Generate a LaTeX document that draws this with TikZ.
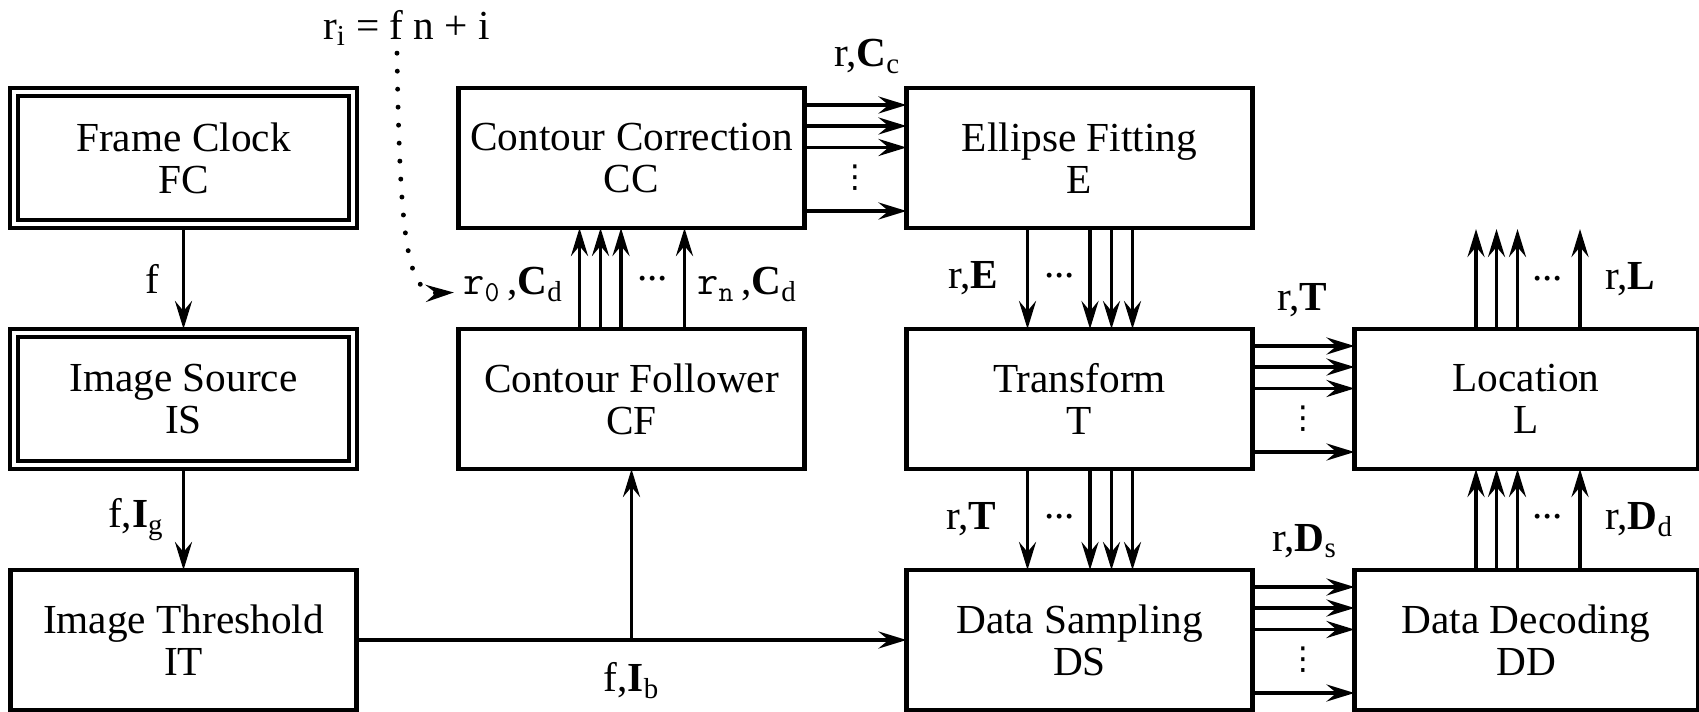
\documentclass[tikz,border=0pt]{standalone}
\usepackage{fontspec}
\setmainfont{Liberation Serif}
\newfontfamily\symfont{DejaVu Sans}
\usepackage{tikz}
\usetikzlibrary{arrows.meta, positioning, calc}

\begin{document}
\begin{tikzpicture}[
  font=\fontsize{23.5pt}{24pt}\selectfont,
  node distance=2.02cm and 2.04cm,
  blk/.style={draw, line width=2.3pt, minimum width=6.92cm, minimum height=2.8cm,
    align=center, outer sep=0pt},
  dblk/.style={blk, double, double distance=2.1pt, minimum width=6.77cm,
    minimum height=2.65cm, outer sep=0.075cm},
  rblk/.style={blk, minimum width=6.86cm},
  sig/.style={-{Stealth[length=0.56cm, width=0.34cm, inset=0.2cm]}, line width=2.2pt},
  lbl/.style={inner sep=0pt},
  vd/.style={inner sep=0pt, font=\symfont\fontsize{18pt}{18pt}\selectfont}
]
  \useasboundingbox (0,0) rectangle (33.98,-14.24);

  % blocks
  \node[dblk] (FC) at (3.67,-3.16) {Frame Clock\\FC};
  \node[dblk, below=of FC] (IS) {Image Source\\IS};
  \node[blk, below=of IS] (IT) {Image Threshold\\IT};
  \node[blk, right=of FC] (CC) {Contour Correction\\CC};
  \node[blk, below=of CC] (CF) {Contour Follower\\CF};
  \node[blk, right=of CC] (E) {Ellipse Fitting\\E};
  \node[blk, below=of E] (T) {Transform\\T};
  \node[blk, below=of T] (DS) {Data Sampling\\DS};
  \node[rblk, right=of T] (L) {Location\\L};
  \node[rblk, below=of L] (DD) {Data Decoding\\DD};

  % left column
  \draw[sig] (FC) -- node[lbl, left=0.45cm] (lf) {f} (IS);
  \draw[sig] (IS) -- node[lbl, left=0.36cm] (lfig) {f,\textbf{I}\textsubscript{g}} (IT);

  % threshold output, split to follower
  \draw[sig] (IT) -- (DS);
  \coordinate (br) at (IT -| CF);
  \draw[sig] (br) -- (CF);
  \node[lbl, below=0.45cm of br] (lfib) {f,\textbf{I}\textsubscript{b}};

  % follower -> correction
  \foreach \dx in {-1.04,-0.62,-0.21,1.06}
    \draw[sig] ([xshift=\dx cm]CF.north) -- ([xshift=\dx cm]CC.south);
  \coordinate (cfm) at ($(CF.north)!0.5!(CC.south)$);
  \node[lbl, anchor=east] (lr0) at ($(cfm)+(-1.37,-0.12)$)
    {\texttt{r}\textsubscript{\texttt{0}}\,,\textbf{C}\textsubscript{d}};
  \node[lbl] (lcfd) at ($(cfm)+(0.42,0)$) {...};
  \node[lbl, anchor=west] (lrn) at ($(cfm)+(1.31,-0.12)$)
    {\texttt{r}\textsubscript{\texttt{n}}\,,\textbf{C}\textsubscript{d}};

  % region index
  \node[lbl] (lri) at (8.13,-0.56) {r\textsubscript{i} = f n + i};
  \draw[line width=2.8pt, line cap=round, dash pattern=on 0pt off 0.36cm,
    -{Stealth[length=0.56cm, width=0.34cm, inset=0.2cm]}]
    ($(lri.south)+(-0.19,-0.14)$) .. controls (8.0,-4.9) and (8.15,-5.88)
    .. ($(lr0.west)+(-0.18,-0.16)$);

  % correction -> ellipse fitting
  \foreach \dy in {1.06,0.64,0.21,-1.06}
    \draw[sig] ([yshift=\dy cm]CC.east) -- ([yshift=\dy cm]E.west);
  \node[vd] (vcc) at ($(CC.east)!0.5!(E.west)+(0,-0.4)$) {⋮};
  \node[lbl, anchor=base] (lrc) at ($(CC.north east)!0.5!(E.north west)+(0.23,0.42)$)
    {r,\textbf{C}\textsubscript{c}};

  % ellipse -> transform -> sampling
  \foreach \dx in {-1.04,0.21,0.64,1.06} {
    \draw[sig] ([xshift=\dx cm]E.south) -- ([xshift=\dx cm]T.north);
    \draw[sig] ([xshift=\dx cm]T.south) -- ([xshift=\dx cm]DS.north);
  }
  \node[lbl, anchor=east] (lre) at ($(E.south)!0.5!(T.north)+(-1.62,0)$) {r,\textbf{E}};
  \node[lbl] (led) at ($(E.south)!0.5!(T.north)+(-0.4,0.05)$) {...};
  \node[lbl, anchor=east] (lrt) at ($(T.south)!0.5!(DS.north)+(-1.66,0)$) {r,\textbf{T}};
  \node[lbl] (ltd) at ($(T.south)!0.5!(DS.north)+(-0.4,0.05)$) {...};

  % transform -> location, sampling -> decoding
  \foreach \dy in {1.06,0.64,0.21,-1.06} {
    \draw[sig] ([yshift=\dy cm]T.east) -- ([yshift=\dy cm]L.west);
    \draw[sig] ([yshift=\dy cm]DS.east) -- ([yshift=\dy cm]DD.west);
  }
  \node[vd] (vtl) at ($(T.east)!0.5!(L.west)+(0,-0.4)$) {⋮};
  \node[vd] (vdd) at ($(DS.east)!0.5!(DD.west)+(0,-0.4)$) {⋮};
  \node[lbl, anchor=base] (lrtl) at ($(T.north east)!0.5!(L.north west)+(-0.03,0.36)$)
    {r,\textbf{T}};
  \node[lbl, anchor=base] (lrds) at ($(DS.north east)!0.5!(DD.north west)+(0.02,0.38)$)
    {r,\textbf{D}\textsubscript{s}};

  % decoding -> location -> out
  \foreach \dx in {-1.0,-0.59,-0.17,1.08} {
    \draw[sig] ([xshift=\dx cm]DD.north) -- ([xshift=\dx cm]L.south);
    \draw[sig] ([xshift=\dx cm]L.north) -- ([xshift=\dx cm, yshift=2cm]L.north);
  }
  \node[lbl] (ldd) at ($(DD.north)!0.5!(L.south)+(0.43,0.05)$) {...};
  \node[lbl, anchor=west] (lrd) at ($(DD.north)!0.5!(L.south)+(1.58,0)$)
    {r,\textbf{D}\textsubscript{d}};
  \node[lbl] (lld) at ($(L.north)+(0.43,1.0)$) {...};
  \node[lbl, anchor=west] (lrl) at ($(L.north)+(1.58,1)$) {r,\textbf{L}};
\end{tikzpicture}
\end{document}
